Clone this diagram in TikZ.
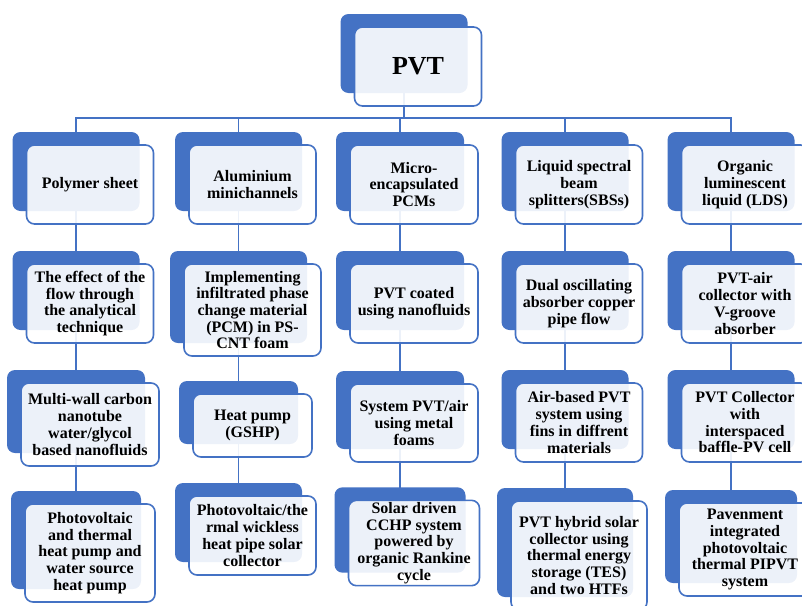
\documentclass[tikz,border=0pt]{standalone}
\usepackage{fontspec}
\setmainfont{Liberation Serif}
\usetikzlibrary{shadows,backgrounds}
\definecolor{pvtblue}{HTML}{4472C4}

\begin{document}
\begin{tikzpicture}[x=1pt, y=-1pt,
    topic/.style={draw=pvtblue, line width=1.6pt, rounded corners=8pt,
        fill=white, fill opacity=0.9, text opacity=1, align=center,
        inner sep=2pt, minimum width=127pt, minimum height=79pt,
        font=\fontsize{16}{16.7}\selectfont\bfseries,
        general shadow={fill=pvtblue, fill opacity=1, draw=none,
            shadow xshift=-14pt, shadow yshift=13pt}},
    link/.style={draw=pvtblue, line width=1.3pt}]
    \useasboundingbox (0,0) rectangle (802,605);
    % root
    \node[topic, font=\fontsize{26}{30}\selectfont\bfseries] (pvt) at (418,66.5) {PVT};
    \coordinate (bus) at (0,118);
    % first row
    \node[topic] (poly) at (90,184.5) {Polymer sheet};
    \node[topic] (alu) at (252.5,184.5) {Aluminium\\minichannels};
    \node[topic, minimum width=128pt] (micro) at (414,184.5) {Micro-\\encapsulated\\PCMs};
    \node[topic] (spectral) at (579,184.5) {Liquid spectral\\beam\\splitters(SBSs)};
    \node[topic] (organic) at (745,184.5) {Organic\\luminescent\\liquid (LDS)};
    % second row
    \node[topic] (flow) at (90,303.5) {The effect of the\\flow through\\the analytical\\technique};
    \node[topic, minimum width=137pt, minimum height=92pt] (foam) at (252.5,310) {Implementing\\infiltrated phase\\change material\\(PCM) in PS-\\CNT foam};
    \node[topic, minimum width=128pt] (coated) at (414,303.5) {PVT coated\\using nanofluids};
    \node[topic] (dual) at (579,303.5) {Dual oscillating\\absorber copper\\pipe flow};
    \node[topic] (vgroove) at (745,303.5) {PVT-air\\collector with\\V-groove\\absorber};
    % third row
    \node[topic, minimum width=138pt, minimum height=83pt] (carbon) at (90,424.5) {Multi-wall carbon\\nanotube\\water/glycol\\based nanofluids};
    \node[topic, minimum width=119pt, minimum height=63pt] (gshp) at (252.5,425.5) {Heat pump\\(GSHP)};
    \node[topic, minimum width=128pt, minimum height=78pt] (metal) at (414,423) {System PVT/air\\using metal\\foams};
    \node[topic] (fins) at (579,422.5) {Air-based PVT\\system using\\fins in diffrent\\materials};
    \node[topic] (baffle) at (745,422.5) {PVT Collector\\with\\interspaced\\baffle-PV cell};
    % fourth row
    \node[topic, minimum width=130pt, minimum height=98pt] (source) at (90,553) {Photovoltaic\\and thermal\\heat pump and\\water source\\heat pump};
    \node[topic] (wickless) at (252.5,535.5) {Photovoltaic/the\\rmal wickless\\heat pipe solar\\collector};
    \node[topic, minimum width=131pt, minimum height=80pt] (cchp) at (414,543) {Solar driven\\CCHP system\\powered by\\organic Rankine\\cycle};
    \node[topic, minimum width=136pt, minimum height=109pt] (tes) at (579,555.5) {PVT hybrid solar\\collector using\\thermal energy\\storage (TES)\\and two HTFs};
    \node[topic, minimum width=132pt, minimum height=93pt] (pipvt) at (745,549.5) {Pavenment\\integrated\\photovoltaic\\thermal PIPVT\\system};
    % connectors
    \begin{scope}[on background layer]
        \foreach \n in {poly,alu,micro,spectral,organic}
            \draw[link] ([xshift=-14pt]pvt.center) -- ([xshift=-14pt]pvt.center |- bus) -| ([xshift=-14pt]\n.center);
        \foreach \a/\b in {poly/flow, flow/carbon, carbon/source,
                           alu/foam, foam/gshp, gshp/wickless,
                           micro/coated, coated/metal, metal/cchp,
                           spectral/dual, dual/fins, fins/tes,
                           organic/vgroove, vgroove/baffle, baffle/pipvt}
            \draw[link] ([xshift=-14pt]\a.center) -- ([xshift=-14pt]\b.center);
    \end{scope}
\end{tikzpicture}
\end{document}
